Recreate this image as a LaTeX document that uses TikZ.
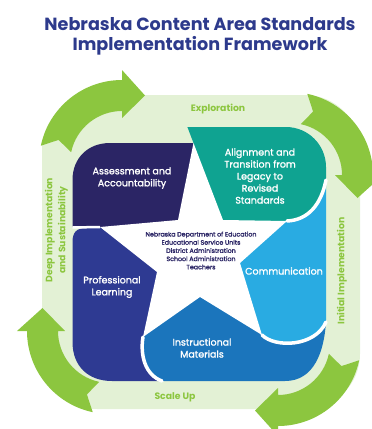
\documentclass[tikz,border=0pt]{standalone}
\usepackage{fontspec}
\setmainfont{Poppins}
\newfontfamily\medfont{Poppins}[FakeBold=1.6]
\definecolor{titlec}{HTML}{2D3A8C}
\definecolor{agreen}{HTML}{8CC63F}
\definecolor{lgreen}{HTML}{E3F1D5}
\definecolor{navyc}{HTML}{2B2565}
\definecolor{tealc}{HTML}{0FA391}
\definecolor{commc}{HTML}{29ABE2}
\definecolor{instrc}{HTML}{1B75BC}
\definecolor{profc}{HTML}{2E3A92}
\begin{document}
\begin{tikzpicture}[x=1pt,y=-1pt,
  cyc/.pic={\fill[agreen] (-168:83) arc[start angle=-168,end angle=-90,radius=83]
     -- (0,-93) -- (23,-67.5) -- (0,-45) -- (0,-52)
     arc[start angle=-90,end angle=-168,radius=52] -- (-160:67.5) -- cycle;},
  blk/.style={text=white,font=\fontsize{9.5}{12}\selectfont\medfont,align=center,inner sep=0pt},
  phase/.style={text=agreen,font=\fontsize{9.3}{13}\selectfont\bfseries,align=center,inner sep=0pt},
  sep/.style={white,line width=3.5pt,line cap=round}]
\useasboundingbox (0,0) rectangle (372,429);
\clip (0,0) rectangle (372,429);
% title
\node[text=titlec,font=\fontsize{17.6}{22}\selectfont\bfseries,inner sep=0pt] (t1) at (200,24) {Nebraska Content Area Standards};
\node[text=titlec,font=\fontsize{17.6}{22}\selectfont\bfseries,inner sep=0pt] (t2) at (200,46) {Implementation Framework};
% frame
\fill[lgreen,rounded corners=55pt] (42,95) rectangle (360,409);
% arrows
\pic at (122,163) {cyc};
\pic[rotate=-90] at (290,175) {cyc};
\pic[rotate=-180] at (278,343) {cyc};
\pic[rotate=-270] at (110,331) {cyc};
% key points
\coordinate (C) at (200,255);
\coordinate (Ttop) at (193.5,143);
\coordinate (V1) at (178,220);
\coordinate (V2) at (223,220);
\coordinate (Tr) at (287,221);
\coordinate (V3) at (240,263);
\coordinate (Tbr) at (262,335);
\coordinate (V4) at (200,297);
\coordinate (Tbl) at (143,337);
\coordinate (V5) at (157,272);
\coordinate (Tl) at (100,227);
% blocks
\fill[navyc] (C) -- (Tl) -- (72.5,227) -- (72.5,180) .. controls (72.5,158) and (88,143) .. (110,143) -- (Ttop) -- cycle;
\fill[tealc] (C) -- (Ttop) -- (187.4,127) -- (286,127) arc[start angle=-90,end angle=0,radius=40] -- (326,180) .. controls (321,205) and (308,220) .. (Tr) -- cycle;
\fill[commc] (C) -- (Tr) .. controls (308,220) and (321,205) .. (326,180) -- (326,322) .. controls (315,347) and (275,348) .. (Tbr) -- cycle;
\fill[instrc] (C) -- (Tbr) .. controls (275,348) and (315,347) .. (326,322) .. controls (324,352) and (314,381) .. (285,381) -- (162,381) .. controls (145,375) and (140,355) .. (Tbl) -- cycle;
\fill[profc] (C) -- (Tbl) .. controls (140,355) and (145,375) .. (162,381) -- (112,381) .. controls (88,381) and (72.5,366) .. (72.5,342) -- (72.5,242) .. controls (72.5,233) and (76,228) .. (86,228) -- (Tl) -- cycle;
% star
\fill[white] (Ttop) -- (V2) -- (Tr) -- (V3) -- (Tbr) -- (V4) -- (Tbl) -- (V5) -- (Tl) -- (V1) -- cycle;
% separators
\draw[sep] (Tr) .. controls (308,220) and (321,205) .. (326,180);
\draw[sep] (Tbr) .. controls (275,348) and (315,347) .. (326,322);
\draw[sep] (Tbl) .. controls (140,355) and (145,375) .. (162,381);
\draw[white,line width=2.5pt] (Tl) -- (72.5,227.5);
% labels
\node[blk] (assess) at (132,178) {Assessment and\\Accountability};
\node[blk] (align) at (260,176) {Alignment and\\Transition from\\Legacy to\\Revised\\Standards};
\node[blk] (comm) at (284,271) {Communication};
\node[blk] (prof) at (112,287) {Professional\\Learning};
\node[blk] (instr) at (202,348) {Instructional\\Materials};
\node[text=navyc,font=\fontsize{6.3}{8.2}\selectfont\medfont,align=center,inner sep=0pt] (core) at (201,250.5)
  {Nebraska Department of Education\\Educational Service Units\\District Administration\\School Administration\\Teachers};
\node[phase] (explo) at (218,109) {Exploration};
\node[phase] (scale) at (175,397) {Scale Up};
\node[phase,rotate=90] (init) at (342,271) {Initial Implementation};
\node[phase,rotate=90] (deep) at (56.5,230) {Deep Implementation\\and Sustainability};
\end{tikzpicture}
\end{document}
